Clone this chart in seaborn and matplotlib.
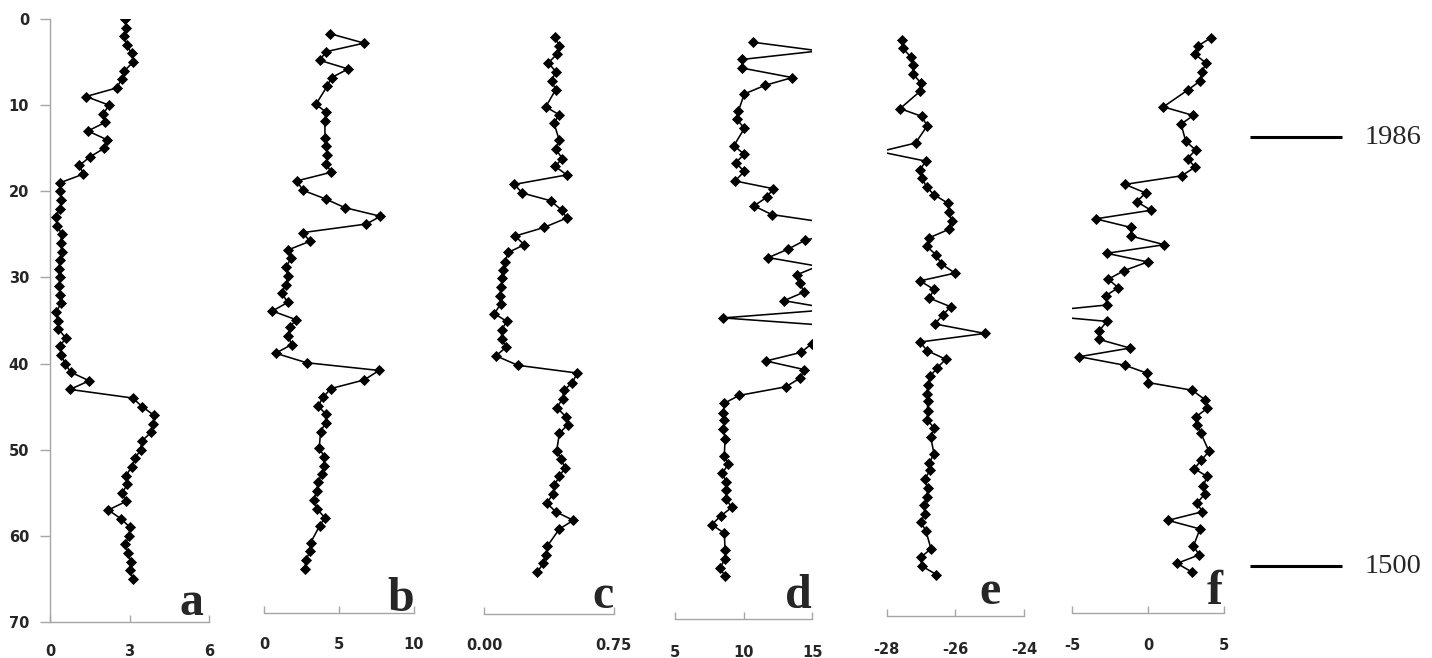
import numpy as np
import pandas as pd
import seaborn as sns
import matplotlib
matplotlib.use("Agg")
import matplotlib.pyplot as plt

# depth profiles, one per panel (depth, value)
depth_a = [0, 1, 2, 3, 4, 5, 6, 7, 8, 9, 10, 11, 12, 13, 14, 15, 16, 17, 18, 19, 20,
           21, 22, 23, 24, 25, 26, 27, 28, 29, 30, 31, 32, 33, 34, 35, 36, 37, 38, 39, 40,
           41, 42, 43, 44, 45, 46, 47, 48, 49, 50, 51, 52, 53, 54, 55, 56, 57, 58, 59, 60,
           61, 62, 63, 64, 65]
val_a = [2.83, 2.87, 2.79, 2.89, 3.08, 3.14, 2.81, 2.70, 2.52, 1.36, 2.23, 2.01, 2.08, 1.43,
         2.14, 2.05, 1.51, 1.11, 1.26, 0.39, 0.39, 0.42, 0.39, 0.21, 0.28, 0.44, 0.40, 0.45,
         0.38, 0.33, 0.38, 0.34, 0.39, 0.42, 0.23, 0.30, 0.31, 0.59, 0.38, 0.42, 0.57, 0.78,
         1.48, 0.75, 3.12, 3.48, 3.92, 3.90, 3.81, 3.46, 3.42, 3.21, 3.08, 2.87, 2.92, 2.73,
         2.87, 2.20, 2.67, 3.02, 2.98, 2.83, 2.96, 3.04, 3.02, 3.12]

depth_b = [1.7, 2.8, 3.8, 4.8, 5.8, 6.8, 7.8, 9.9, 10.8, 11.8, 13.8, 14.7, 15.8, 16.8, 17.8,
           18.8, 19.9, 20.9, 21.9, 22.9, 23.8, 24.8, 25.8, 26.8, 27.8, 28.8, 29.8, 30.9, 31.8,
           32.9, 33.9, 34.9, 35.8, 36.8, 37.8, 38.8, 39.9, 40.8, 41.9, 42.9, 43.9, 44.9, 45.9,
           46.9, 47.9, 49.8, 50.8, 51.9, 52.8, 53.8, 54.8, 55.8, 56.9, 57.9, 58.8, 60.8, 61.8,
           62.8, 63.9]
val_b = [4.38, 6.67, 4.11, 3.71, 5.60, 4.49, 4.20, 3.45, 4.11, 4.05, 4.05, 4.11, 4.22, 4.15,
         4.45, 2.16, 2.60, 4.11, 5.38, 7.76, 6.82, 2.56, 3.05, 1.60, 1.78, 1.45, 1.60, 1.42,
         1.16, 1.56, 0.54, 2.11, 1.71, 1.60, 1.82, 0.76, 2.82, 7.67, 6.67, 4.45, 3.93, 3.60,
         4.11, 4.09, 3.76, 3.67, 4.00, 3.98, 3.83, 3.60, 3.49, 3.31, 3.53, 4.05, 3.71, 3.09,
         3.05, 2.78, 2.71]

depth_c = [2.1, 3.1, 4.1, 5.1, 6.1, 7.2, 8.2, 10.2, 11.1, 12.1, 14.1, 15.1, 16.2, 17.1, 18.1,
           19.2, 20.2, 21.1, 22.2, 23.1, 24.2, 25.2, 26.2, 27.1, 28.2, 29.1, 30.1, 31.1, 32.2,
           33.1, 34.2, 35.1, 36.1, 37.1, 38.1, 39.1, 40.2, 41.1, 42.2, 43.1, 44.1, 45.1, 46.2,
           47.1, 48.1, 50.1, 51.1, 52.1, 53.1, 54.1, 55.1, 56.2, 57.2, 58.2, 59.2, 61.2, 62.2,
           63.2, 64.2]
val_c = [0.410, 0.433, 0.420, 0.371, 0.414, 0.390, 0.414, 0.356, 0.433, 0.404, 0.435, 0.414,
         0.452, 0.410, 0.478, 0.174, 0.220, 0.385, 0.449, 0.478, 0.346, 0.178, 0.232, 0.139,
         0.120, 0.107, 0.104, 0.097, 0.091, 0.095, 0.058, 0.130, 0.100, 0.100, 0.126, 0.068,
         0.194, 0.539, 0.510, 0.462, 0.454, 0.420, 0.474, 0.483, 0.435, 0.420, 0.445, 0.468,
         0.435, 0.406, 0.400, 0.362, 0.414, 0.516, 0.435, 0.365, 0.358, 0.342, 0.307]

depth_d = [2.7, 3.7, 4.7, 5.7, 6.8, 7.7, 8.7, 10.7, 11.6, 12.7, 14.7, 15.7, 16.7, 17.7, 18.8,
           19.7, 20.7, 21.7, 22.7, 23.7, 24.7, 25.7, 26.7, 27.7, 28.7, 29.7, 30.7, 31.7, 32.7,
           33.7, 34.7, 35.7, 36.7, 37.7, 38.7, 39.7, 40.7, 41.7, 42.7, 43.7, 44.6, 45.7, 46.6,
           47.6, 48.7, 50.7, 51.7, 52.7, 53.7, 54.7, 55.7, 56.7, 57.7, 58.7, 59.7, 61.6, 62.7,
           63.7, 64.7]
val_d = [10.69, 15.5, 9.85, 9.89, 13.54, 11.55, 10.04, 9.60, 9.48, 10.04, 9.28, 10.02, 9.41,
         10.04, 9.36, 12.15, 11.67, 10.74, 12.04, 16.3, 17.0, 14.45, 13.25, 11.79, 15.4, 13.86,
         14.10, 14.40, 12.93, 16.6, 8.50, 17.2, 16.0, 14.96, 14.18, 11.62, 14.42, 14.10, 13.06,
         9.65, 8.58, 8.50, 8.58, 8.50, 8.63, 8.58, 8.87, 8.43, 8.70, 8.70, 8.70, 9.12, 8.31,
         7.66, 8.58, 8.63, 8.63, 8.26, 8.63]

depth_e = [2.4, 3.4, 4.4, 5.3, 6.4, 7.4, 8.4, 10.4, 11.3, 12.4, 14.4, 15.4, 16.5, 17.5, 18.4,
           19.5, 20.4, 21.4, 22.4, 23.4, 24.4, 25.4, 26.4, 27.4, 28.4, 29.5, 30.4, 31.4, 32.4,
           33.4, 34.4, 35.4, 36.5, 37.5, 38.5, 39.5, 40.5, 41.5, 42.5, 43.5, 44.4, 45.5, 46.5,
           47.5, 48.5, 50.5, 51.5, 52.4, 53.4, 54.5, 55.5, 56.4, 57.5, 58.4, 59.4, 61.5, 62.5,
           63.5, 64.5]
val_e = [-27.55, -27.53, -27.30, -27.23, -27.23, -27.01, -27.03, -27.61, -26.98, -26.82,
         -27.16, -28.2, -26.86, -27.03, -26.98, -26.84, -26.62, -26.21, -26.19, -26.11, -26.18,
         -26.76, -26.84, -26.55, -26.42, -26.01, -27.03, -26.62, -26.76, -26.14, -26.37, -26.60,
         -25.14, -27.03, -26.82, -26.28, -26.53, -26.74, -26.79, -26.84, -26.81, -26.81, -26.82,
         -26.62, -26.72, -26.62, -26.76, -26.74, -26.89, -26.81, -26.82, -26.91, -26.89, -27.01,
         -26.86, -26.71, -27.01, -26.98, -26.55]

depth_f = [2.2, 3.1, 4.1, 5.1, 6.1, 7.2, 8.2, 10.2, 11.2, 12.2, 14.2, 15.2, 16.2, 17.2, 18.2,
           19.2, 20.2, 21.2, 22.2, 23.2, 24.2, 25.2, 26.2, 27.2, 28.2, 29.2, 30.2, 31.2, 32.1,
           33.2, 34.2, 35.1, 36.2, 37.2, 38.2, 39.2, 40.2, 41.1, 42.2, 43.1, 44.2, 45.2, 46.2,
           47.1, 48.1, 50.2, 51.2, 52.2, 53.1, 54.2, 55.1, 56.2, 57.2, 58.2, 59.2, 61.2, 62.2,
           63.2, 64.2]
val_f = [4.12, 3.31, 3.09, 3.81, 3.57, 3.42, 2.65, 1.00, 2.98, 2.17, 2.48, 3.13, 2.60, 3.09,
         2.21, -1.53, -0.16, -0.76, 0.19, -3.46, -1.13, -1.13, 1.06, -2.73, -0.03, -1.57, -2.63,
         -1.97, -2.78, -2.73, -8.4, -2.73, -3.22, -3.22, -1.20, -4.54, -1.53, -0.10, 0.00, 2.91,
         3.75, 3.90, 3.13, 3.22, 3.48, 4.01, 3.51, 3.05, 3.88, 3.64, 3.75, 3.22, 3.57, 1.31,
         3.42, 2.98, 3.37, 1.90, 2.89]

panel_letters = ["a", "b", "c", "d", "e", "f"]
x_ticks = [[0, 3, 6], [0, 5, 10], [0.0, 0.75], [5, 10, 15], [-28, -26, -24], [-5, 0, 5]]
x_ticklabels = [["0", "3", "6"], ["0", "5", "10"], ["0.00", "0.75"], ["5", "10", "15"],
                ["-28", "-26", "-24"], ["-5", "0", "5"]]
depth_ticks = [0, 10, 20, 30, 40, 50, 60, 70]

year_depths = [13.7, 63.5]
year_labels = ["1986", "1500"]

# layout, in pixels of the 1432x658 image
W, H = 1432, 658
TOP = 19
PX_PER_DEPTH = 603 / 70
layout = [
    # x0, x1, spine y, label pad, letter right x, letter baseline y
    (50, 209, 622, 16, 203, 615),
    (264.3, 414, 613, 17, 414, 611),
    (484.3, 613.7, 614, 17, 614, 608),
    (675.3, 812.3, 619, 19, 812, 608),
    (886.7, 1024, 616, 19, 1001, 604),
    (1072.3, 1224, 613, 18, 1223, 604),
]

sns.set_style("white")
plt.rcParams["font.family"] = ["DejaVu Sans"]
plt.rcParams["axes.unicode_minus"] = False

profiles = [(depth_a, val_a), (depth_b, val_b), (depth_c, val_c),
            (depth_d, val_d), (depth_e, val_e), (depth_f, val_f)]

fig = plt.figure(figsize=(W / 100, H / 100), dpi=100)
grey = "#a6a6a6"

for i, (depths, vals) in enumerate(profiles):
    x0, x1, spine_y, pad, lx, ly = layout[i]
    ax = fig.add_axes([x0 / W, 1 - spine_y / H, (x1 - x0) / W, (spine_y - TOP) / H])
    df = pd.DataFrame({"depth": depths, "val": vals})
    xlim = (x_ticks[i][0], x_ticks[i][-1])

    sns.lineplot(data=df, x="val", y="depth", sort=False, estimator=None,
                 color="black", linewidth=1.15, ax=ax)
    # markers only for points inside the axis range (Excel hides the rest)
    inside = df[(df["val"] >= xlim[0]) & (df["val"] <= xlim[1])]
    sns.scatterplot(data=inside, x="val", y="depth", marker="D", s=32, color="black",
                    linewidth=0, ax=ax, zorder=3)

    ax.set_xlim(*xlim)
    ax.set_ylim((spine_y - TOP) / PX_PER_DEPTH, 0)
    ax.set_xlabel("")
    ax.set_ylabel("")
    ax.set_facecolor("none")
    for s in ["top", "right"]:
        ax.spines[s].set_visible(False)
    ax.spines["bottom"].set_color(grey)
    ax.spines["bottom"].set_linewidth(1)

    ax.set_xticks(x_ticks[i])
    ax.set_xticklabels(x_ticklabels[i], fontweight="bold", fontsize=10.5)
    ax.tick_params(axis="x", bottom=True, direction="in", length=5, width=1,
                   color=grey, pad=pad)

    if i == 0:
        ax.spines["left"].set_color(grey)
        ax.spines["left"].set_linewidth(1)
        ax.set_yticks(depth_ticks)
        ax.set_yticklabels([str(t) for t in depth_ticks], fontweight="bold", fontsize=10.5)
        ax.tick_params(axis="y", left=True, direction="out", length=7, width=1,
                       color=grey, pad=8)
    else:
        ax.spines["left"].set_visible(False)
        ax.set_yticks([])

    fig.text(lx / W, 1 - ly / H, panel_letters[i], ha="right", va="baseline",
             fontsize=34.5, fontweight="bold", family="Liberation Serif")

# age markers on the right, same depth scale as panel a
axr = fig.add_axes([1240 / W, 1 - 622 / H, (W - 1240) / W, (622 - TOP) / H])
axr.set_xlim(1240, W)
axr.set_ylim(70, 0)
axr.axis("off")
axr.hlines(year_depths, 1250, 1342, color="black", linewidth=2.2)
for d, lab in zip(year_depths, year_labels):
    axr.text(1365, d, lab, ha="left", va="center", fontsize=20.5, family="Liberation Serif")

fig.savefig("out.png", dpi=100)
